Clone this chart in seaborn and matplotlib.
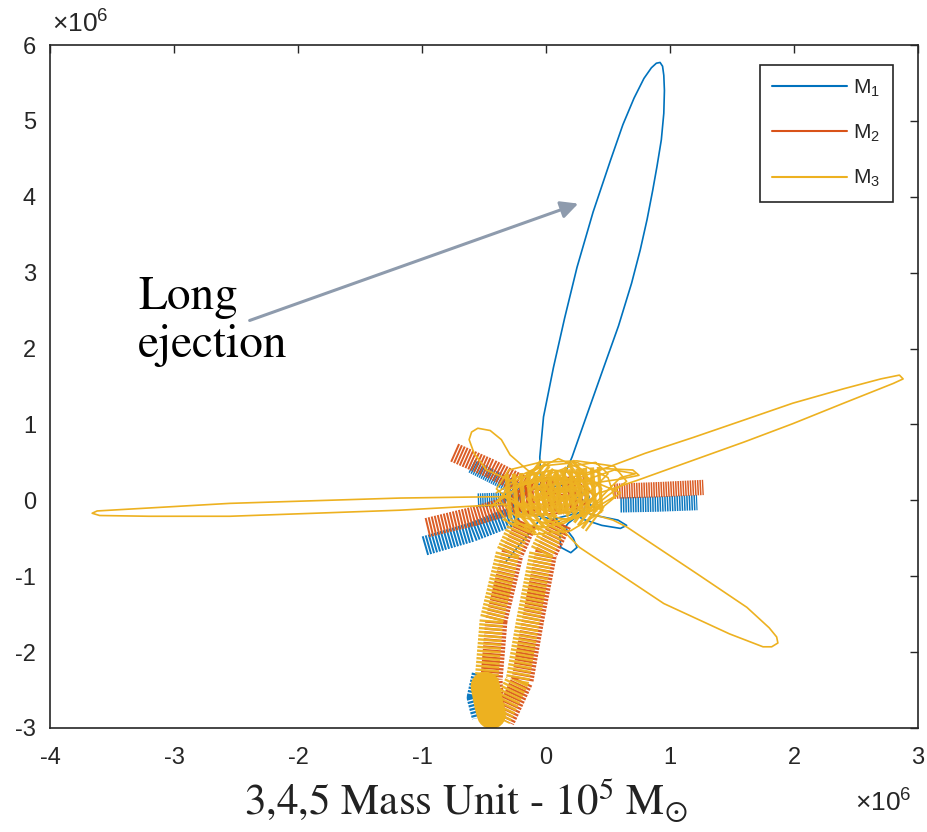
import matplotlib
matplotlib.use("Agg")
import matplotlib.pyplot as plt
from matplotlib.lines import Line2D
import pandas as pd
import seaborn as sns

# ---------------- data (coordinates in units of 10^6) ----------------
BODIES = ["M$_1$", "M$_2$", "M$_3$"]
COLORS = ["#0072BD", "#D95319", "#EDB120"]

X_TICKS = [-4, -3, -2, -1, 0, 1, 2, 3]
X_TICK_LABELS = ["-4", "-3", "-2", "-1", "0", "1", "2", "3"]
Y_TICKS = [-3, -2, -1, 0, 1, 2, 3, 4, 5, 6]
Y_TICK_LABELS = ["-3", "-2", "-1", "0", "1", "2", "3", "4", "5", "6"]

# M1 (blue) thin trajectory pieces
M1_EJECT_X = [-0.04, -0.05, -0.02, 0.06, 0.15, 0.25, 0.38, 0.52, 0.62, 0.71,
              0.79, 0.85, 0.89, 0.92, 0.94, 0.95, 0.955, 0.95, 0.93, 0.895,
              0.86, 0.815, 0.76, 0.69, 0.585, 0.465, 0.335, 0.21, 0.10]
M1_EJECT_Y = [0.10, 0.57, 1.10, 1.75, 2.40, 3.07, 3.80, 4.48, 4.95, 5.30,
              5.56, 5.70, 5.76, 5.77, 5.72, 5.60, 5.40, 5.10, 4.75, 4.40,
              4.08, 3.70, 3.30, 2.86, 2.30, 1.75, 1.15, 0.57, 0.15]
M1_LOOP_A_X = [0.05, 0.15, 0.22, 0.25, 0.20, 0.12, 0.11, 0.18, 0.30]
M1_LOOP_A_Y = [-0.20, -0.35, -0.50, -0.62, -0.69, -0.62, -0.45, -0.30, -0.15]
M1_LOOP_B_X = [0.20, 0.40, 0.58, 0.65, 0.60, 0.45, 0.30, 0.20]
M1_LOOP_B_Y = [-0.10, -0.20, -0.26, -0.33, -0.37, -0.33, -0.25, -0.15]
M1_TAIL_X = [0.00, -0.12, -0.22, -0.32]
M1_TAIL_Y = [-0.15, -0.40, -0.60, -0.80]
M1_CORE_X = [-0.30, -0.10, 0.15, 0.35, 0.30, 0.05, -0.20, -0.35, -0.15, 0.20, 0.40]
M1_CORE_Y = [-0.05, 0.15, 0.20, 0.05, -0.15, -0.25, -0.15, 0.05, 0.25, 0.10, -0.10]

# M1 dense looping bands
M1_BAND_UL_X = [-0.60, -0.38, -0.15]
M1_BAND_UL_Y = [0.45, 0.27, 0.08]
M1_BAND_LL_X = [-0.98, -0.60, -0.22]
M1_BAND_LL_Y = [-0.60, -0.42, -0.18]
M1_BAND_R_X = [0.60, 0.90, 1.22]
M1_BAND_R_Y = [-0.06, -0.05, -0.03]
M1_BAND_C_X = [-0.55, -0.20]
M1_BAND_C_Y = [0.00, 0.02]
M1_BAND_BOT_X = [-0.51, -0.55, -0.51]
M1_BAND_BOT_Y = [-2.30, -2.60, -2.85]

# M2 (red) thin pieces
M2_CORE_X = [-0.25, 0.00, 0.25, 0.40, 0.20, -0.10, -0.30, -0.10, 0.20, 0.35]
M2_CORE_Y = [0.10, 0.30, 0.25, 0.05, -0.15, -0.20, 0.00, 0.15, 0.05, -0.10]

# M2 dense looping bands
M2_BAND_UL_X = [-0.74, -0.45, -0.13]
M2_BAND_UL_Y = [0.63, 0.42, 0.15]
M2_BAND_LL_X = [-0.96, -0.58, -0.20]
M2_BAND_LL_Y = [-0.36, -0.21, -0.02]
M2_BAND_R_X = [0.55, 0.90, 1.27]
M2_BAND_R_Y = [0.12, 0.14, 0.17]
M2_ARM_L_X = [-0.16, -0.27, -0.40, -0.44, -0.42]
M2_ARM_L_Y = [-0.30, -0.70, -1.58, -2.37, -2.86]
M2_ARM_R_X = [0.12, 0.00, -0.105, -0.19, -0.34]
M2_ARM_R_Y = [-0.30, -0.70, -1.58, -2.37, -2.90]
M2_CORE_BLOB_X = [-0.25, 0.35]
M2_CORE_BLOB_Y = [0.02, 0.12]

# M3 (yellow) thin pieces
M3_RIGHT_X = [0.10, 0.44, 0.80, 1.19, 1.60, 1.99, 2.40, 2.70, 2.85, 2.88, 2.80,
              2.40, 1.99, 1.60, 1.19, 0.73, 0.40]
M3_RIGHT_Y = [0.20, 0.40, 0.62, 0.83, 1.06, 1.28, 1.47, 1.60, 1.65, 1.60, 1.54,
              1.28, 1.01, 0.77, 0.53, 0.26, 0.08]
M3_LOWR_X = [0.30, 0.54, 0.65, 1.22, 1.62, 1.80, 1.86, 1.87, 1.82, 1.75, 1.48, 0.95,
             0.27, 0.14, 0.05]
M3_LOWR_Y = [-0.15, -0.26, -0.35, -0.97, -1.41, -1.68, -1.80, -1.88, -1.93, -1.93,
             -1.76, -1.36, -0.62, -0.40, -0.20]
M3_LEFT_X = [-0.30, -1.18, -2.55, -3.30, -3.62, -3.66, -3.60, -3.20, -2.55, -1.18, -0.30]
M3_LEFT_Y = [0.05, 0.03, -0.04, -0.11, -0.14, -0.17, -0.20, -0.21, -0.21, -0.13, -0.05]
M3_UPL_X = [-0.20, -0.48, -0.58, -0.62, -0.60, -0.55, -0.45, -0.36, -0.29, -0.15, 0.00]
M3_UPL_Y = [0.20, 0.40, 0.62, 0.80, 0.90, 0.95, 0.92, 0.80, 0.60, 0.40, 0.25]
M3_LOOP_R_X = [0.20, 0.45, 0.70, 0.75, 0.60, 0.35, 0.20]
M3_LOOP_R_Y = [0.30, 0.42, 0.40, 0.33, 0.28, 0.22, 0.15]
M3_CORE_X = [-0.40, -0.20, 0.05, 0.30, 0.45, 0.35, 0.10, -0.15, -0.35, -0.30, -0.05,
             0.25, 0.50, 0.55, 0.30, 0.00, -0.25, -0.38, -0.20, 0.10, 0.38, 0.60,
             0.45, 0.15, -0.10, -0.30, -0.15, 0.10, 0.30, 0.20, -0.05, -0.25, -0.10,
             0.20, 0.45, 0.35, 0.05, -0.20, -0.42, -0.30, 0.00, 0.30, 0.60, 0.72,
             0.55, 0.20, -0.10]
M3_CORE_Y = [0.10, 0.30, 0.40, 0.35, 0.15, -0.05, -0.15, -0.10, 0.05, 0.25, 0.45,
             0.50, 0.30, 0.05, -0.20, -0.30, -0.20, 0.00, 0.20, 0.30, 0.25, 0.10,
             -0.10, -0.25, -0.15, 0.05, 0.35, 0.55, 0.40, 0.15, 0.00, -0.25, -0.45,
             -0.40, -0.15, 0.15, 0.30, 0.20, -0.05, -0.30, -0.35, -0.20, 0.30, 0.35,
             0.40, 0.20, 0.00]
M3_CORE2_X = [-0.45, -0.30, -0.05, 0.20, 0.40, 0.50, 0.35, 0.05, -0.25, -0.40, -0.30,
              -0.05, 0.25, 0.55, 0.65, 0.45, 0.15, -0.15, -0.35]
M3_CORE2_Y = [-0.10, 0.15, 0.30, 0.45, 0.50, 0.35, 0.10, -0.05, -0.05, 0.15, 0.40,
              0.50, 0.52, 0.45, 0.25, 0.00, -0.30, -0.40, -0.25]

# M3 dense looping bands
M3_ARM_L_X = [-0.20, -0.31, -0.44, -0.48, -0.46]
M3_ARM_L_Y = [-0.30, -0.70, -1.58, -2.37, -2.84]
M3_ARM_R_X = [0.08, -0.04, -0.145, -0.23, -0.38]
M3_ARM_R_Y = [-0.30, -0.70, -1.58, -2.37, -2.88]
M3_BOTTOM_X = [-0.49, -0.46, -0.44]
M3_BOTTOM_Y = [-2.45, -2.70, -2.82]
M3_BLOB_A_X = [-0.32, 0.45]
M3_BLOB_A_Y = [0.05, 0.15]
M3_BLOB_B_X = [-0.18, 0.32]
M3_BLOB_B_Y = [-0.28, 0.38]
M3_BLOB_C_X = [-0.12, 0.40]
M3_BLOB_C_Y = [0.38, -0.25]

ARROW_FROM = (-2.39, 2.37)
ARROW_TO = (0.26, 3.91)

# ---------------- build tables ----------------
thin = {
    0: [(M1_EJECT_X, M1_EJECT_Y), (M1_LOOP_A_X, M1_LOOP_A_Y), (M1_LOOP_B_X, M1_LOOP_B_Y),
        (M1_TAIL_X, M1_TAIL_Y), (M1_CORE_X, M1_CORE_Y)],
    1: [(M2_CORE_X, M2_CORE_Y)],
    2: [(M3_RIGHT_X, M3_RIGHT_Y), (M3_LOWR_X, M3_LOWR_Y), (M3_LEFT_X, M3_LEFT_Y),
        (M3_UPL_X, M3_UPL_Y), (M3_LOOP_R_X, M3_LOOP_R_Y), (M3_CORE_X, M3_CORE_Y),
        (M3_CORE2_X, M3_CORE2_Y)],
}
# (x, y, linewidth in pt)
bands = {
    0: [(M1_BAND_UL_X, M1_BAND_UL_Y, 10), (M1_BAND_LL_X, M1_BAND_LL_Y, 14),
        (M1_BAND_R_X, M1_BAND_R_Y, 11), (M1_BAND_C_X, M1_BAND_C_Y, 10),
        (M1_BAND_BOT_X, M1_BAND_BOT_Y, 16)],
    1: [(M2_BAND_UL_X, M2_BAND_UL_Y, 14), (M2_BAND_LL_X, M2_BAND_LL_Y, 14),
        (M2_BAND_R_X, M2_BAND_R_Y, 11), (M2_ARM_L_X, M2_ARM_L_Y, 16),
        (M2_ARM_R_X, M2_ARM_R_Y, 16), (M2_CORE_BLOB_X, M2_CORE_BLOB_Y, 24)],
    2: [(M3_ARM_L_X, M3_ARM_L_Y, 17), (M3_ARM_R_X, M3_ARM_R_Y, 17),
        (M3_BLOB_A_X, M3_BLOB_A_Y, 32), (M3_BLOB_B_X, M3_BLOB_B_Y, 24),
        (M3_BLOB_C_X, M3_BLOB_C_Y, 22)],
}

def seg_frame(pieces):
    rows = []
    for k, p in enumerate(pieces):
        for xx, yy in zip(p[0], p[1]):
            rows.append({"x": xx, "y": yy, "seg": k})
    return pd.DataFrame(rows)

# ---------------- figure ----------------
sns.set_style("white")
plt.rcParams["font.family"] = ["Liberation Sans", "DejaVu Sans"]
plt.rcParams["axes.unicode_minus"] = False
plt.rcParams["mathtext.fontset"] = "custom"
plt.rcParams["mathtext.rm"] = "Liberation Sans"
plt.rcParams["mathtext.it"] = "Liberation Sans:italic"

fig = plt.figure(figsize=(9.28, 8.32), dpi=100)
ax = fig.add_axes([50 / 928, 1 - 728 / 832, 868 / 928, 683 / 832])

for b in range(3):
    col = COLORS[b]
    for (bx, by, lw) in bands[b]:
        df = pd.DataFrame({"x": bx, "y": by})
        sns.lineplot(data=df, x="x", y="y", sort=False, estimator=None, ax=ax,
                     color=col, linewidth=lw, linestyle=(0, (0.1, 0.06)),
                     alpha=0.95)
    df = seg_frame(thin[b])
    sns.lineplot(data=df, x="x", y="y", units="seg", estimator=None, sort=False,
                 ax=ax, color=col, linewidth=1.2)
    if b == 2:
        df = pd.DataFrame({"x": M3_BOTTOM_X, "y": M3_BOTTOM_Y})
        sns.lineplot(data=df, x="x", y="y", sort=False, estimator=None, ax=ax,
                     color=col, linewidth=21, solid_capstyle="round")

ax.set_xlim(-4, 3)
ax.set_ylim(-3, 6)
ax.set_xticks(X_TICKS)
ax.set_xticklabels(X_TICK_LABELS)
ax.set_yticks(Y_TICKS)
ax.set_yticklabels(Y_TICK_LABELS)
ax.set_xlabel("")
ax.set_ylabel("")
ax.tick_params(direction="in", length=6, width=1.0, colors="#262626",
               labelsize=17, top=True, right=True, pad=10)
ax.tick_params(axis="x", pad=14)
for sp in ax.spines.values():
    sp.set_visible(True)
    sp.set_color("#262626")
    sp.set_linewidth(1.2)

# offset texts (MATLAB style)
fig.text(52 / 928, 1 - 33 / 832, r"$\times$10$^{6}$", fontsize=19, color="#262626",
         ha="left", va="baseline")
fig.text(855 / 928, 1 - 812 / 832, r"$\times$10$^{6}$", fontsize=19, color="#262626",
         ha="left", va="baseline")

# x label (serif)
fig.text(466 / 928, 1 - 815 / 832, r"3,4,5 Mass Unit - 10$^{5}$ M$_{\odot}$",
         fontsize=31, family="STIXGeneral", math_fontfamily="stix",
         color="#222222", ha="center", va="baseline")

# annotation
ax.text(-3.29, 2.95, "Long\nejection", fontsize=34, family="STIXGeneral",
        color="black", ha="left", va="top", linespacing=1.15)
ax.annotate("", xy=ARROW_TO, xytext=ARROW_FROM,
            arrowprops=dict(arrowstyle="-|>", color="#8E9BAD", lw=2.2,
                            mutation_scale=26, shrinkA=0, shrinkB=0))

# legend
handles = [Line2D([0], [0], color=c, lw=1.5) for c in COLORS]
leg = ax.legend(handles, BODIES, loc="upper right",
                bbox_to_anchor=((893 - 50) / 868, (728 - 65) / 683),
                borderaxespad=0, fontsize=15, handlelength=3.6, handletextpad=0.3,
                labelspacing=1.15, borderpad=0.6, fancybox=False, framealpha=1,
                edgecolor="#262626")
leg.get_frame().set_linewidth(1.2)
for t in leg.get_texts():
    t.set_color("#262626")

fig.savefig("out.png", dpi=100)
